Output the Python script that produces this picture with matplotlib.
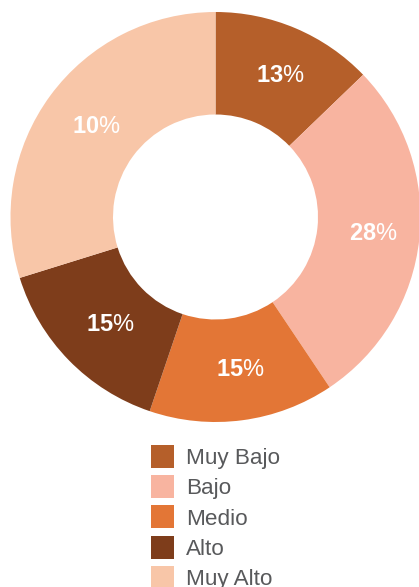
import numpy as np
import matplotlib
matplotlib.use("Agg")
import matplotlib.pyplot as plt

plt.rcParams['font.family'] = ['Liberation Sans', 'DejaVu Sans']
plt.rcParams['mathtext.fontset'] = 'custom'
plt.rcParams['mathtext.rm'] = 'Liberation Sans'
plt.rcParams['mathtext.bf'] = 'Liberation Sans:bold'

# data
categories = ['Muy Bajo', 'Bajo', 'Medio', 'Alto', 'Muy Alto']
shares = [12.8, 27.8, 14.6, 15.0, 29.8]          # slice sizes as drawn
pct_labels = ['13', '28', '15', '15', '10']       # numbers printed on the slices
colors = ['#b55f2a', '#f8b4a0', '#e37636', '#7e3d1b', '#f8c6a8']

fig = plt.figure(figsize=(4.19, 5.87), dpi=100)
# donut box: centre (215.5, 217) px, radius 205 px
ax = fig.add_axes([10.5 / 419, (587 - 422) / 587, 410 / 419, 410 / 587])

wedges, _ = ax.pie(shares, colors=colors, startangle=90, counterclock=False,
                   radius=1.0, wedgeprops=dict(width=0.5, linewidth=0))
ax.set_xlim(-1, 1)
ax.set_ylim(-1, 1)
ax.set_aspect('equal')
ax.axis('off')

# labels at the middle of the ring, nudged a bit right like the original
for w, num in zip(wedges, pct_labels):
    ang = np.deg2rad((w.theta1 + w.theta2) / 2)
    r = 0.75
    ax.annotate(r'$\mathbf{' + num + '}$%', (r * np.cos(ang), r * np.sin(ang)),
                xytext=(3.6, -0.5), textcoords='offset points',
                ha='center', va='center', color='white', fontsize=17)

leg = fig.legend(wedges, categories, loc='upper left',
                 bbox_to_anchor=(151 / 419, 1 - 445 / 587),
                 frameon=False, fontsize=16.2, handlelength=1.02,
                 handleheight=1.2, handletextpad=0.55, labelspacing=0.27,
                 borderpad=0, borderaxespad=0)
for t in leg.get_texts():
    t.set_color('#58595b')

fig.savefig('out.png', dpi=100)
